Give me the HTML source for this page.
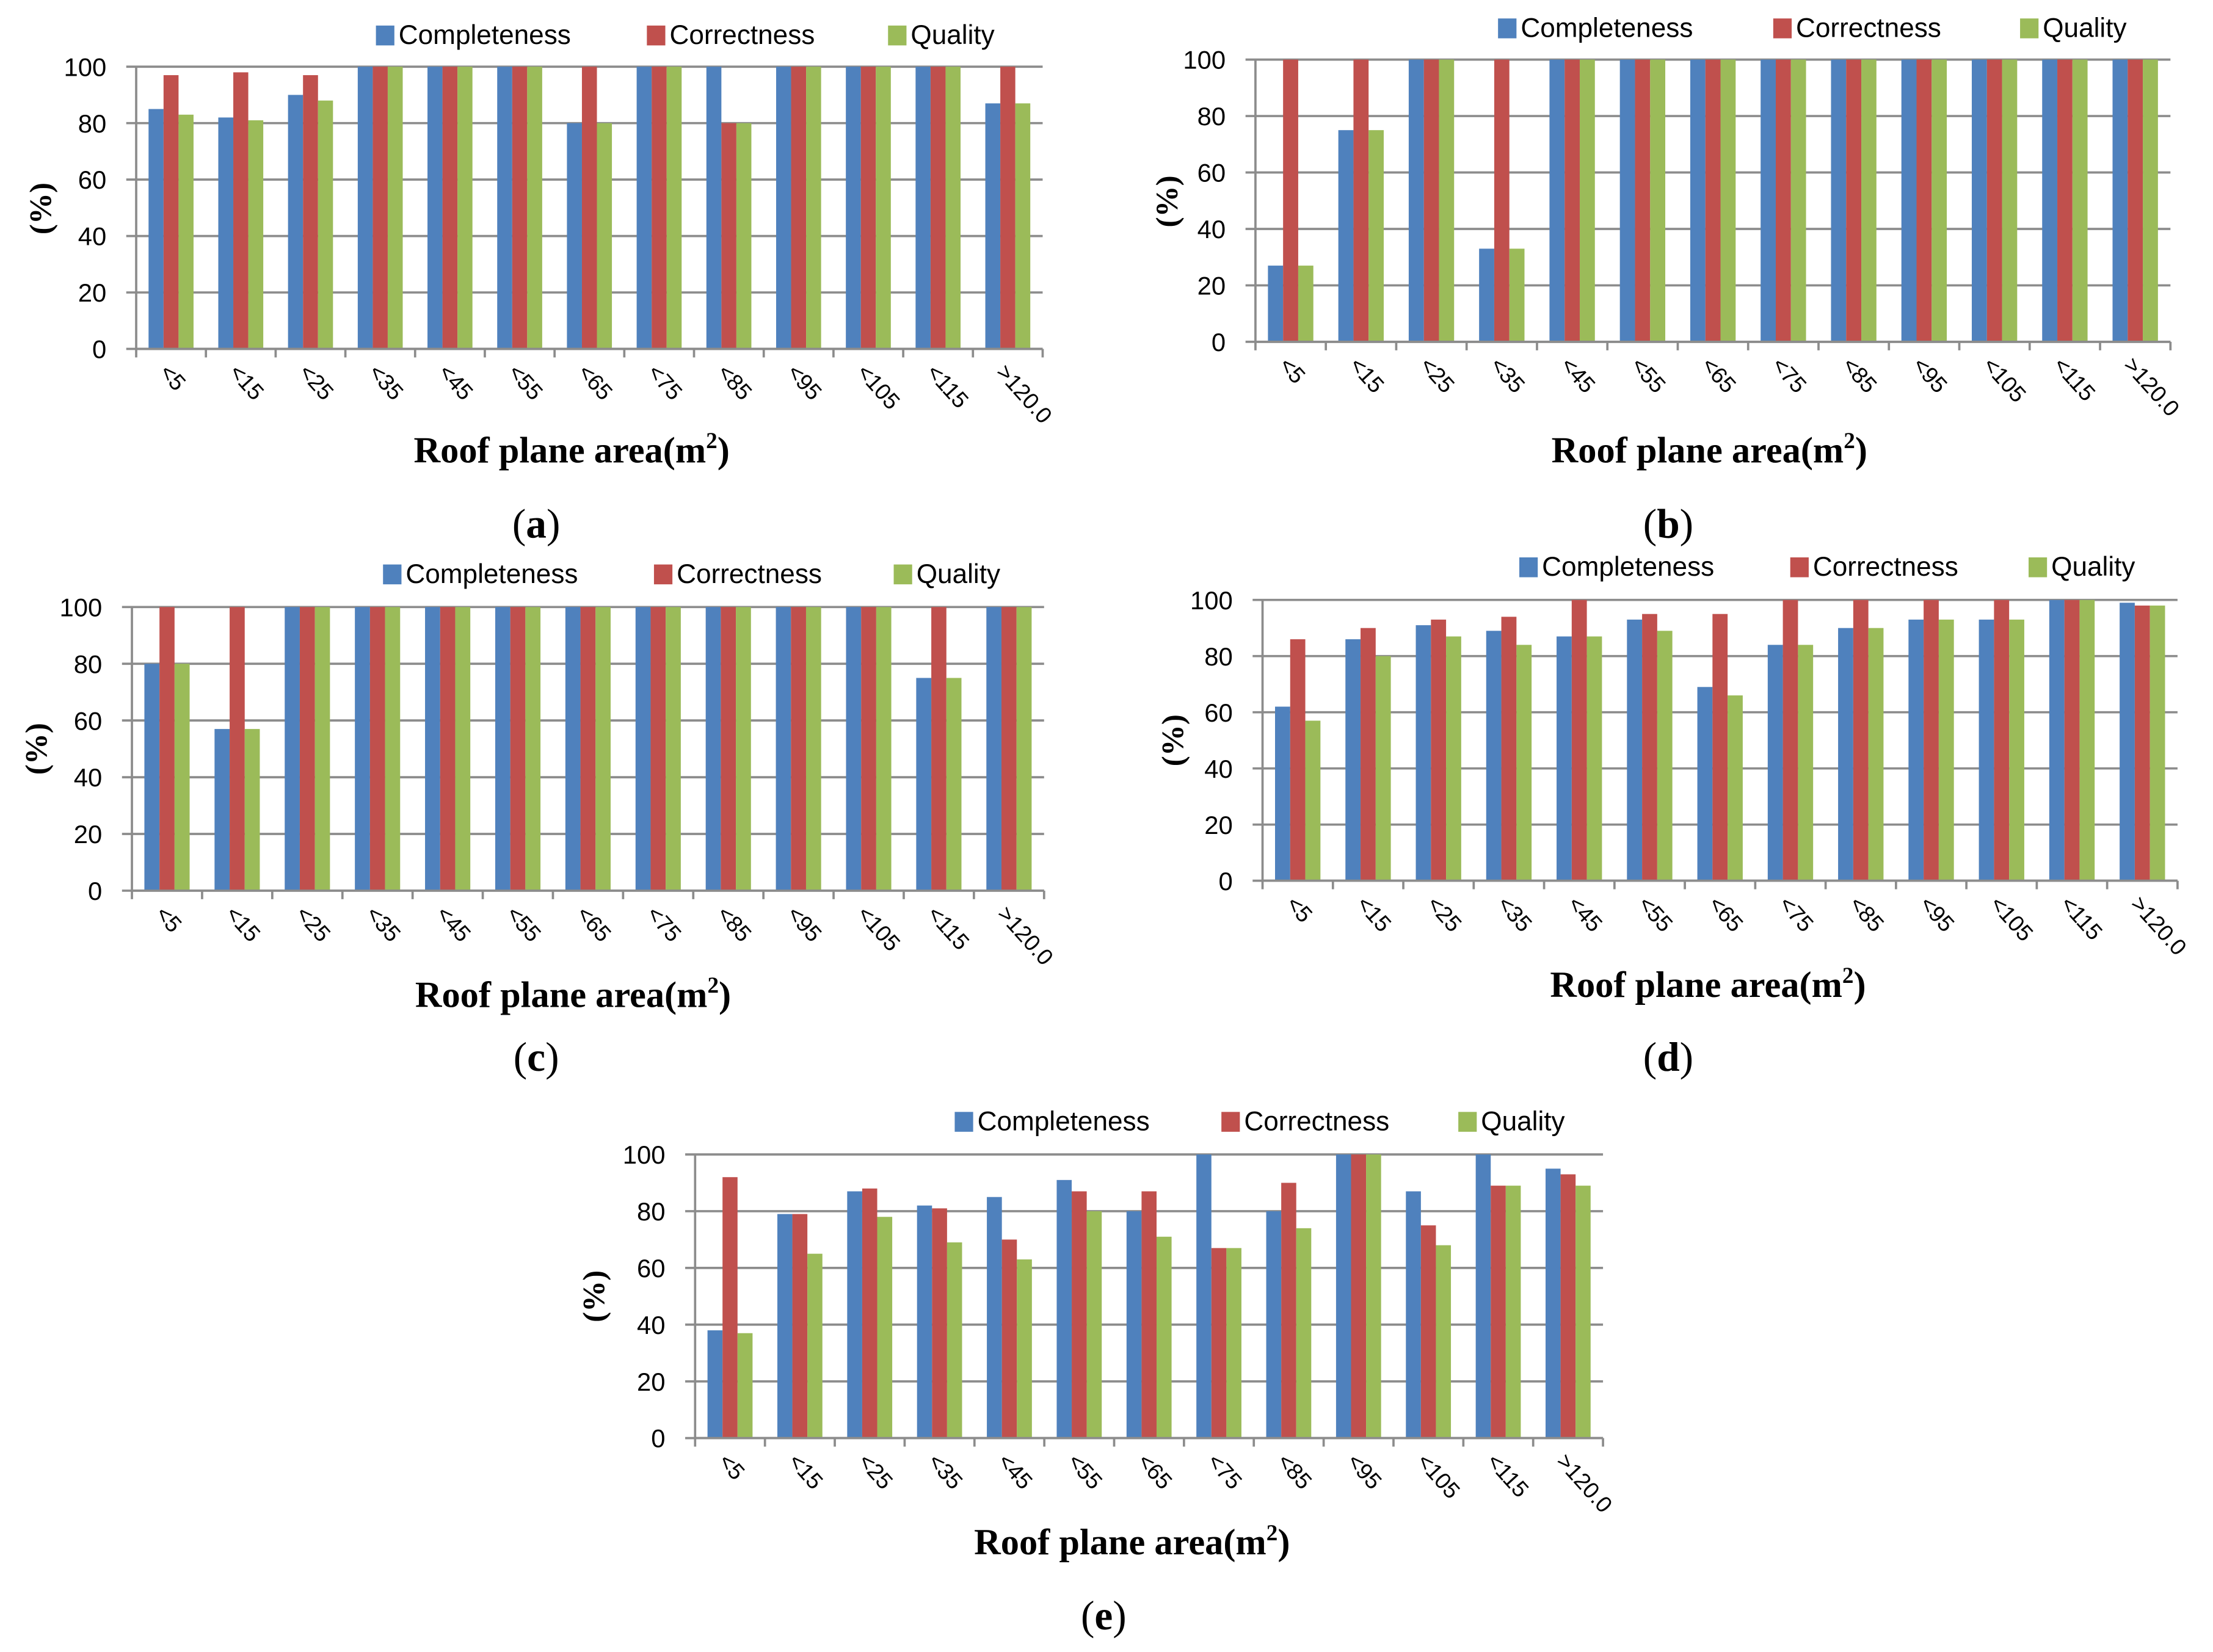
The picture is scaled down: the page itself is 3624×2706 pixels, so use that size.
<!DOCTYPE html>
<html><head><meta charset="utf-8"><style>
html,body{margin:0;padding:0;background:#fff;}
svg{display:block;}
</style></head><body>
<svg id="fig" width="3624" height="2706" viewBox="0 0 1560 1164.8" xmlns="http://www.w3.org/2000/svg"></svg>
<script>
const categories = ["<5","<15","<25","<35","<45","<55","<65","<75","<85","<95","<105","<115",">120.0"];
const yTicks = [0,20,40,60,80,100];
const seriesNames = ["Completeness","Correctness","Quality"];
const aCompleteness = [85,82,90,100,100,100,80,100,100,100,100,100,87];
const aCorrectness = [97,98,97,100,100,100,100,100,80,100,100,100,100];
const aQuality = [83,81,88,100,100,100,80,100,80,100,100,100,87];
const bCompleteness = [27,75,100,33,100,100,100,100,100,100,100,100,100];
const bCorrectness = [100,100,100,100,100,100,100,100,100,100,100,100,100];
const bQuality = [27,75,100,33,100,100,100,100,100,100,100,100,100];
const cCompleteness = [80,57,100,100,100,100,100,100,100,100,100,75,100];
const cCorrectness = [100,100,100,100,100,100,100,100,100,100,100,100,100];
const cQuality = [80,57,100,100,100,100,100,100,100,100,100,75,100];
const dCompleteness = [62,86,91,89,87,93,69,84,90,93,93,100,99];
const dCorrectness = [86,90,93,94,100,95,95,100,100,100,100,100,98];
const dQuality = [57,80,87,84,87,89,66,84,90,93,93,100,98];
const eCompleteness = [38,79,87,82,85,91,80,100,80,100,87,100,95];
const eCorrectness = [92,79,88,81,70,87,87,67,90,100,75,89,93];
const eQuality = [37,65,78,69,63,80,71,67,74,100,68,89,89];

const colors = ["#4F81BD","#C0504D","#9BBB59"];
const NS = "http://www.w3.org/2000/svg";
const svg = document.getElementById('fig');
function mk(tag, attrs, parent){const e=document.createElementNS(NS,tag);for(const k in attrs)e.setAttribute(k,attrs[k]);(parent||svg).appendChild(e);return e;}

const panels = [
 {id:"a",x0:96,x1:735,y0:246,y1:47,leg:[265,456,626],legY:18,yt:[28,147],xt:[403,318],pl:[378,370],data:[aCompleteness,aCorrectness,aQuality]},
 {id:"b",x0:885,x1:1530,y0:241,y1:42,leg:[1056,1250,1424],legY:13,yt:[822,142],xt:[1205,318],pl:[1176,370],data:[bCompleteness,bCorrectness,bQuality]},
 {id:"c",x0:93,x1:736,y0:628,y1:428,leg:[270,461,630],legY:398,yt:[25,528],xt:[404,702],pl:[378,746],data:[cCompleteness,cCorrectness,cQuality]},
 {id:"d",x0:890,x1:1535,y0:621,y1:423,leg:[1071,1262,1430],legY:393,yt:[826,522],xt:[1204,695],pl:[1176,746],data:[dCompleteness,dCorrectness,dQuality]},
 {id:"e",x0:490,x1:1130,y0:1014,y1:814,leg:[673,861,1028],legY:784,yt:[418,914],xt:[798,1088],pl:[778,1140],data:[eCompleteness,eCorrectness,eQuality]}
];

panels.forEach(p=>{
  const g = mk('g',{});
  
  
  const yS = v => p.y0 + (p.y1-p.y0)*v/100;
  const step = (p.x1-p.x0)/categories.length;
  const bw = step*0.215;
  // gridlines & y ticks
  yTicks.forEach(t=>{
    const y=yS(t);
    const l=mk('line',{x1:p.x0-7,x2:p.x1,y1:y,y2:y,stroke:'#8c8c8c','stroke-width':1.6},g);
    
    
    const tx=mk('text',{x:p.x0-21,y:y+6.5,'text-anchor':'end','font-family':'Liberation Sans, sans-serif','font-size':18,fill:'#000'},g);
    tx.textContent=t;
    
    
  });
  // bars
  categories.forEach((c,i)=>{
    const cx=p.x0+step*(i+0.5);
    p.data.forEach((arr,s)=>{
      const v=arr[i];
      const r=mk('rect',{x:cx-1.5*bw+s*bw,y:yS(v),width:bw,height:yS(0)-yS(v),fill:colors[s]},g);
      
      
    });
    const t=mk('text',{x:0,y:0,transform:`translate(${cx-9},${p.y0+17}) rotate(48)`,'font-family':'Liberation Sans, sans-serif','font-size':16,fill:'#000'},g);
    t.textContent=c;
    
    
  });
  // axes
  mk('line',{x1:p.x0,x2:p.x0,y1:p.y1,y2:p.y0,stroke:'#8c8c8c','stroke-width':1.6},g);
  mk('line',{x1:p.x0,x2:p.x1,y1:p.y0,y2:p.y0,stroke:'#8c8c8c','stroke-width':1.6},g);
  for(let i=0;i<=categories.length;i++){
    const x=p.x0+step*i;
    mk('line',{x1:x,x2:x,y1:p.y0,y2:p.y0+6,stroke:'#8c8c8c','stroke-width':1.6},g);
  }
  // legend
  p.leg.forEach((lx,s)=>{
    const r=mk('rect',{x:lx,y:p.legY,width:13,height:14,fill:colors[s]},g);
    
    
    const t=mk('text',{x:lx+16,y:p.legY+13,'font-family':'Liberation Sans, sans-serif','font-size':19,fill:'#000'},g);
    t.textContent=seriesNames[s];
    
    
  });
  // y title
  const yt=mk('text',{x:0,y:0,transform:`translate(${p.yt[0]+8},${p.yt[1]}) rotate(-90)`,'text-anchor':'middle','font-family':'Liberation Serif, serif','font-size':22,'font-weight':'bold',fill:'#000'},g);
  yt.textContent='(%)';
  
  
  // x title
  const xt=mk('text',{x:p.xt[0],y:p.xt[1]+8,'text-anchor':'middle','font-family':'Liberation Serif, serif','font-size':26,'font-weight':'bold',fill:'#000'},g);
  xt.innerHTML='Roof plane area(m<tspan font-size="16" dy="-10">2</tspan><tspan dy="10">)</tspan>';
  
  
  // panel label
  const pl=mk('text',{x:p.pl[0],y:p.pl[1]+9,'text-anchor':'middle','font-family':'Liberation Serif, serif','font-size':29,fill:'#000'},g);
  pl.innerHTML='(<tspan font-weight="bold">'+p.id+'</tspan>)';
  
  
});
</script>
</body></html>
